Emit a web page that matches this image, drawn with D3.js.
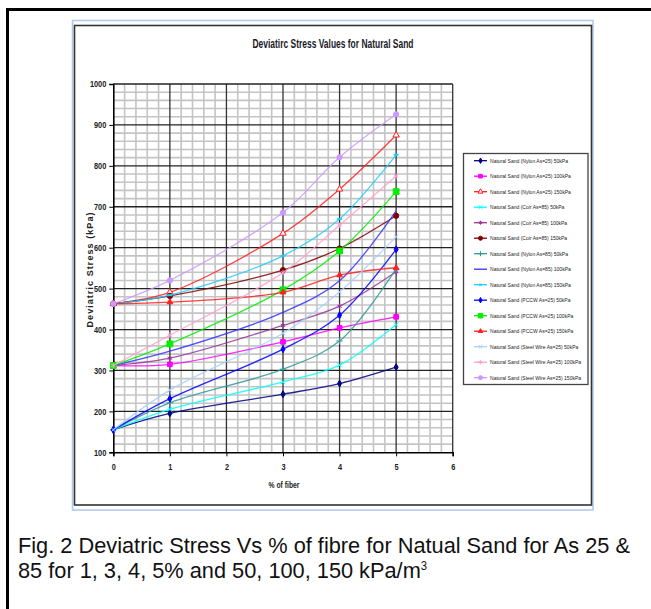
<!DOCTYPE html>
<html>
<head>
<meta charset="utf-8">
<script src="https://cdn.jsdelivr.net/npm/d3@7"></script>
<style>
  body { margin: 0; background: #fff; }
  svg { display: block; }
  .narrow { font-family: "Liberation Sans Narrow", "Arial Narrow", "Liberation Sans", Arial, sans-serif; }
</style>
</head>
<body>
<div id="fig"></div>
<script>
// valeurs (kPa)
const fibre = [0, 1, 3, 4, 5];
const noms = [
  "Natural Sand (Nylon As=25) 50kPa",
  "Natural Sand (Nylon As=25) 100kPa",
  "Natural Sand (Nylon As=25) 150kPa",
  "Natural Sand (Coir As=85) 50kPa",
  "Natural Sand (Coir As=85) 100kPa",
  "Natural Sand (Coir As=85) 150kPa",
  "Natural Sand (Nylon As=85) 50kPa",
  "Natural Sand (Nylon As=85) 100kPa",
  "Natural Sand (Nylon As=85) 150kPa",
  "Natural Sand (PCCW As=25) 50kPa",
  "Natural Sand (PCCW As=25) 100kPa",
  "Natural Sand (PCCW As=25) 150kPa",
  "Natural Sand (Steel Wire As=25) 50kPa",
  "Natural Sand (Steel Wire As=25) 100kPa",
  "Natural Sand (Steel Wire As=25) 150kPa"
];
const valeurs = [
  [155, 195, 242, 268, 308],
  [312, 315, 370, 404, 431],
  [463, 491, 635, 743, 875],
  [155, 205, 272, 313, 412],
  [312, 330, 410, 457, 541],
  [463, 482, 545, 598, 678],
  [155, 221, 303, 372, 548],
  [312, 347, 442, 519, 690],
  [463, 484, 580, 670, 827],
  [155, 231, 352, 435, 596],
  [312, 365, 497, 592, 737],
  [463, 467, 491, 533, 551],
  [155, 252, 391, 492, 627],
  [312, 386, 539, 655, 775],
  [463, 520, 686, 821, 926]
];
const couleurs = ["#000080", "#ff00ff", "#ff2020", "#00ffff", "#993399", "#800000", "#339999",
  "#3333ff", "#22ccff", "#0000ff", "#00ee00", "#ff2020", "#a8d0ff", "#ffa0cc", "#cc99ff"];
const marqueurs = ["diamond", "square", "triangle", "times", "asterisk", "circle", "plus",
  "none", "dash", "diamond", "bigsquare", "smalltri", "times", "asterisk", "circle"];
const yTicks = d3.range(100, 1001, 100);
const xTicks = d3.range(0, 7, 1);

const W = 651, H = 609;
const svg = d3.select("#fig").append("svg")
  .attr("width", W).attr("height", H);

// resserre un texte pour imiter une police étroite
function serrer(sel, f) {
  sel.each(function () {
    const w = this.getComputedTextLength();
    d3.select(this).attr("textLength", w * f).attr("lengthAdjust", "spacingAndGlyphs");
  });
}

// cadre extérieur
svg.append("rect")
  .attr("x", 7.5).attr("y", 9.5).attr("width", 700).attr("height", 700)
  .attr("fill", "none").attr("stroke", "#000").attr("stroke-width", 3);

// bordure bleue et boîte du graphique
svg.append("rect")
  .attr("x", 72.5).attr("y", 20.5).attr("width", 520.5).attr("height", 489.5)
  .attr("fill", "none").attr("stroke", "#adc8ee").attr("stroke-width", 1.5);
svg.append("rect")
  .attr("x", 74.5).attr("y", 25.5).attr("width", 517).attr("height", 479.5)
  .attr("fill", "#fff").attr("stroke", "#333").attr("stroke-width", 1.6);

const x = d3.scaleLinear().domain([0, 6]).range([113.3, 452.7]);
const y = d3.scaleLinear().domain([100, 1000]).range([452.3, 84]);

// grille mineure
const g = svg.append("g");
g.selectAll("line.vx").data(d3.range(0, 6.01, 0.2).filter(v => Math.abs(v - Math.round(v)) > 1e-6))
  .join("line")
  .attr("x1", d => x(d)).attr("x2", d => x(d))
  .attr("y1", y(100)).attr("y2", y(1000))
  .attr("stroke", "#c4c4c4").attr("stroke-width", 1.6);
g.selectAll("line.hy").data(d3.range(120, 1000, 20).filter(v => v % 100 !== 0))
  .join("line")
  .attr("y1", d => y(d)).attr("y2", d => y(d))
  .attr("x1", x(0)).attr("x2", x(6))
  .attr("stroke", "#c4c4c4").attr("stroke-width", 1.6);
// grille majeure
g.selectAll("line.mx").data(xTicks.slice(1))
  .join("line")
  .attr("x1", d => x(d)).attr("x2", d => x(d))
  .attr("y1", y(100)).attr("y2", y(1000))
  .attr("stroke", "#333").attr("stroke-width", 1.3);
g.selectAll("line.my").data(yTicks.slice(1))
  .join("line")
  .attr("y1", d => y(d)).attr("y2", d => y(d))
  .attr("x1", x(0)).attr("x2", x(6))
  .attr("stroke", "#222").attr("stroke-width", 1.3);

// axes
const axY = svg.append("g").attr("class", "narrow")
  .attr("transform", `translate(${x(0)},0)`)
  .call(d3.axisLeft(y).tickValues(yTicks).tickFormat(d3.format("d")).tickSize(4).tickPadding(3));
const axX = svg.append("g").attr("class", "narrow")
  .attr("transform", `translate(0,${y(100)})`)
  .call(d3.axisBottom(x).tickValues(xTicks).tickFormat(d3.format("d")).tickSize(4).tickPadding(7));
for (let a of [axY, axX]) {
  a.select(".domain").attr("stroke", "#000").attr("stroke-width", 1.6);
  a.selectAll(".tick line").attr("stroke", "#000");
  a.selectAll("text").attr("font-size", 9).attr("font-weight", "bold").attr("fill", "#222")
    .call(serrer, 0.82);
}

// titres
svg.append("text").attr("class", "narrow")
  .attr("x", 333).attr("y", 48).attr("text-anchor", "middle")
  .attr("font-size", 13).attr("font-weight", "bold").attr("fill", "#1a1a2a")
  .attr("textLength", 161).attr("lengthAdjust", "spacingAndGlyphs")
  .text("Deviatirc Stress Values for Natural Sand");
svg.append("text").attr("class", "narrow")
  .attr("transform", "translate(93,270) rotate(-90)").attr("text-anchor", "middle")
  .attr("font-size", 9).attr("font-weight", "bold").attr("fill", "#222")
  .attr("textLength", 115).attr("lengthAdjust", "spacing")
  .text("Deviatric Stress (kPa)");
svg.append("text").attr("class", "narrow")
  .attr("x", 284).attr("y", 488).attr("text-anchor", "middle")
  .attr("font-size", 9).attr("font-weight", "bold").attr("fill", "#222")
  .attr("textLength", 31).attr("lengthAdjust", "spacingAndGlyphs")
  .text("% of fiber");

// marqueurs
function marqueur(sel, type, col, s) {
  if (type === "none") return;
  if (type === "dash") {
    sel.append("line").attr("x1", -2.5 * s).attr("x2", 2.5 * s)
      .attr("stroke", col).attr("stroke-width", 2);
    return;
  }
  const sym = {
    diamond: [d3.symbolDiamond, 14, true], square: [d3.symbolSquare, 22, true],
    bigsquare: [d3.symbolSquare, 34, true], triangle: [d3.symbolTriangle, 18, false],
    smalltri: [d3.symbolTriangle, 14, true], times: [d3.symbolTimes, 16, false],
    asterisk: [d3.symbolAsterisk, 18, false], circle: [d3.symbolCircle, 22, true],
    plus: [d3.symbolPlus, 16, false]
  }[type];
  sel.append("path")
    .attr("d", d3.symbol(sym[0], sym[1] * s)())
    .attr("fill", sym[2] ? col : (type === "triangle" ? "#fff" : "none"))
    .attr("stroke", col).attr("stroke-width", 1);
}

// courbes lissées
const ligne = d3.line()
  .x((d, k) => x(fibre[k])).y(d => y(d))
  .curve(d3.curveCatmullRom.alpha(0.5));
const series = svg.append("g");
valeurs.forEach((vals, i) => {
  const s = series.append("g");
  s.append("path").attr("d", ligne(vals))
    .attr("fill", "none").attr("stroke", couleurs[i])
    .attr("stroke-width", 1.3).attr("stroke-opacity", 0.85);
  vals.forEach((v, k) => {
    marqueur(s.append("g").attr("transform", `translate(${x(fibre[k])},${y(v)})`), marqueurs[i], couleurs[i], 1);
  });
});

// légende
const leg = svg.append("g").attr("class", "narrow");
leg.append("rect")
  .attr("x", 463.5).attr("y", 153.5).attr("width", 124.5).attr("height", 231)
  .attr("fill", "#fff").attr("stroke", "#444").attr("stroke-width", 1.3);
const textes = [];
noms.forEach((n, i) => {
  const ly = 160.7 + i * 15.5;
  const it = leg.append("g").attr("transform", `translate(0,${ly})`);
  it.append("line").attr("x1", 474).attr("x2", 487)
    .attr("stroke", couleurs[i]).attr("stroke-width", 1.3);
  marqueur(it.append("g").attr("transform", "translate(480.5,0)"), marqueurs[i], couleurs[i], 0.6);
  textes.push(it.append("text").attr("x", 490).attr("y", 2)
    .attr("font-size", 6).attr("fill", "#222").text(n).node());
});
const f = 78 / textes[0].getComputedTextLength();
d3.selectAll(textes).call(serrer, f);

// légende de la figure
const cap = svg.append("g")
  .attr("font-family", "'Liberation Sans', Arial, sans-serif").attr("font-size", 23).attr("fill", "#111");
cap.append("text").attr("transform", "translate(18,553) scale(0.947,1)")
  .text("Fig. 2 Deviatric Stress Vs % of fibre for Natual Sand for As 25 &");
const l2 = cap.append("text").attr("transform", "translate(18,578) scale(0.947,1)");
l2.append("tspan").text("85 for 1, 3, 4, 5% and 50, 100, 150 kPa/m");
l2.append("tspan").attr("font-size", 12).attr("dy", -8).text("3");
</script>
</body>
</html>
